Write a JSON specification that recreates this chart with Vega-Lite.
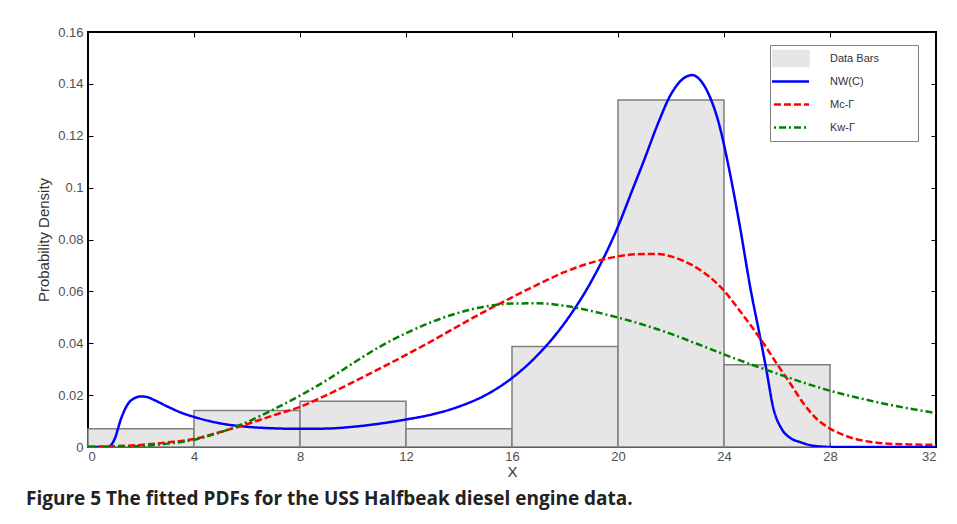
{
  "$schema": "https://vega.github.io/schema/vega-lite/v6.json",
  "width": 848,
  "height": 415,
  "autosize": {"type": "none"},
  "padding": {"left": 88, "top": 32, "right": 21, "bottom": 77},
  "background": "#ffffff",
  "title": {
    "text": "Figure 5 The fitted PDFs for the USS Halfbeak diesel engine data.",
    "orient": "bottom",
    "anchor": "start",
    "frame": "group",
    "font": "Open Sans",
    "fontWeight": "bold",
    "fontSize": 19,
    "color": "#222222",
    "dx": -62,
    "offset": 11
  },
  "config": {
    "view": {"stroke": "#000000", "strokeWidth": 2},
    "axis": {
      "grid": false,
      "domain": false,
      "tickColor": "#000000",
      "tickSize": -5,
      "tickWidth": 1,
      "labelFont": "Liberation Sans",
      "labelFontSize": 13,
      "labelColor": "#505050",
      "titleFont": "Liberation Sans",
      "titleFontSize": 15,
      "titleFontWeight": "normal",
      "titleColor": "#333333"
    }
  },
  "datasets": {
    "bars": [
      {"x0": 0, "x1": 4, "density": 0.00704},
      {"x0": 4, "x1": 8, "density": 0.01408},
      {"x0": 8, "x1": 12, "density": 0.01761},
      {"x0": 12, "x1": 16, "density": 0.00704},
      {"x0": 16, "x1": 20, "density": 0.03873},
      {"x0": 20, "x1": 24, "density": 0.1338},
      {"x0": 24, "x1": 28, "density": 0.03169}
    ],
    "curves": [
      {"series": "NW(C)", "x": 0, "y": 0},
      {"series": "NW(C)", "x": 0.5, "y": 0},
      {"series": "NW(C)", "x": 0.8, "y": 0.0002},
      {"series": "NW(C)", "x": 1.0, "y": 0.003},
      {"series": "NW(C)", "x": 1.25, "y": 0.011},
      {"series": "NW(C)", "x": 1.5, "y": 0.0165},
      {"series": "NW(C)", "x": 1.75, "y": 0.0188},
      {"series": "NW(C)", "x": 2.0, "y": 0.0195},
      {"series": "NW(C)", "x": 2.25, "y": 0.0192},
      {"series": "NW(C)", "x": 2.5, "y": 0.0181},
      {"series": "NW(C)", "x": 3.0, "y": 0.0156},
      {"series": "NW(C)", "x": 3.5, "y": 0.0133},
      {"series": "NW(C)", "x": 4.0, "y": 0.0116},
      {"series": "NW(C)", "x": 5.0, "y": 0.0091},
      {"series": "NW(C)", "x": 6.0, "y": 0.0078},
      {"series": "NW(C)", "x": 7.0, "y": 0.0072},
      {"series": "NW(C)", "x": 8.0, "y": 0.007},
      {"series": "NW(C)", "x": 9.0, "y": 0.0071},
      {"series": "NW(C)", "x": 10.0, "y": 0.0078},
      {"series": "NW(C)", "x": 11.0, "y": 0.009},
      {"series": "NW(C)", "x": 12.0, "y": 0.0106},
      {"series": "NW(C)", "x": 13.0, "y": 0.0126},
      {"series": "NW(C)", "x": 14.0, "y": 0.0156},
      {"series": "NW(C)", "x": 15.0, "y": 0.02},
      {"series": "NW(C)", "x": 16.0, "y": 0.0266},
      {"series": "NW(C)", "x": 17.0, "y": 0.0358},
      {"series": "NW(C)", "x": 18.0, "y": 0.048},
      {"series": "NW(C)", "x": 19.0, "y": 0.064},
      {"series": "NW(C)", "x": 20.0, "y": 0.085},
      {"series": "NW(C)", "x": 20.5, "y": 0.098},
      {"series": "NW(C)", "x": 21.0, "y": 0.111},
      {"series": "NW(C)", "x": 21.5, "y": 0.1245},
      {"series": "NW(C)", "x": 22.0, "y": 0.136},
      {"series": "NW(C)", "x": 22.4, "y": 0.1415},
      {"series": "NW(C)", "x": 22.8, "y": 0.1434},
      {"series": "NW(C)", "x": 23.1, "y": 0.1415},
      {"series": "NW(C)", "x": 23.4, "y": 0.1365},
      {"series": "NW(C)", "x": 23.8, "y": 0.125},
      {"series": "NW(C)", "x": 24.2, "y": 0.1068},
      {"series": "NW(C)", "x": 24.6, "y": 0.085},
      {"series": "NW(C)", "x": 25.0, "y": 0.061},
      {"series": "NW(C)", "x": 25.36, "y": 0.0425},
      {"series": "NW(C)", "x": 25.6, "y": 0.0297},
      {"series": "NW(C)", "x": 25.85, "y": 0.0155},
      {"series": "NW(C)", "x": 26.2, "y": 0.0066},
      {"series": "NW(C)", "x": 26.5, "y": 0.0035},
      {"series": "NW(C)", "x": 26.9, "y": 0.0018},
      {"series": "NW(C)", "x": 27.3, "y": 0.0006},
      {"series": "NW(C)", "x": 27.8, "y": 0.0001},
      {"series": "NW(C)", "x": 28.0, "y": 0},
      {"series": "NW(C)", "x": 32.0, "y": 0},
      {"series": "Mc-Γ", "x": 0, "y": 0},
      {"series": "Mc-Γ", "x": 1, "y": 0.0003},
      {"series": "Mc-Γ", "x": 2, "y": 0.0008},
      {"series": "Mc-Γ", "x": 3, "y": 0.0018},
      {"series": "Mc-Γ", "x": 4, "y": 0.0031},
      {"series": "Mc-Γ", "x": 5, "y": 0.0058},
      {"series": "Mc-Γ", "x": 6, "y": 0.0088},
      {"series": "Mc-Γ", "x": 7, "y": 0.0122},
      {"series": "Mc-Γ", "x": 8, "y": 0.0155},
      {"series": "Mc-Γ", "x": 9, "y": 0.02},
      {"series": "Mc-Γ", "x": 10, "y": 0.025},
      {"series": "Mc-Γ", "x": 11, "y": 0.0302},
      {"series": "Mc-Γ", "x": 12, "y": 0.0355},
      {"series": "Mc-Γ", "x": 13, "y": 0.041},
      {"series": "Mc-Γ", "x": 14, "y": 0.0468},
      {"series": "Mc-Γ", "x": 15, "y": 0.0524},
      {"series": "Mc-Γ", "x": 16, "y": 0.0577},
      {"series": "Mc-Γ", "x": 17, "y": 0.0628},
      {"series": "Mc-Γ", "x": 18, "y": 0.0675},
      {"series": "Mc-Γ", "x": 19, "y": 0.0711},
      {"series": "Mc-Γ", "x": 20, "y": 0.0735},
      {"series": "Mc-Γ", "x": 21, "y": 0.0744},
      {"series": "Mc-Γ", "x": 21.5, "y": 0.0744},
      {"series": "Mc-Γ", "x": 22, "y": 0.0735},
      {"series": "Mc-Γ", "x": 22.5, "y": 0.0716},
      {"series": "Mc-Γ", "x": 23, "y": 0.0689},
      {"series": "Mc-Γ", "x": 23.5, "y": 0.0652},
      {"series": "Mc-Γ", "x": 24, "y": 0.0603},
      {"series": "Mc-Γ", "x": 24.5, "y": 0.0538},
      {"series": "Mc-Γ", "x": 25, "y": 0.047},
      {"series": "Mc-Γ", "x": 25.5, "y": 0.0398},
      {"series": "Mc-Γ", "x": 26, "y": 0.032},
      {"series": "Mc-Γ", "x": 26.5, "y": 0.0245},
      {"series": "Mc-Γ", "x": 27, "y": 0.0168},
      {"series": "Mc-Γ", "x": 27.5, "y": 0.0108},
      {"series": "Mc-Γ", "x": 28, "y": 0.0071},
      {"series": "Mc-Γ", "x": 28.5, "y": 0.0047},
      {"series": "Mc-Γ", "x": 29, "y": 0.003},
      {"series": "Mc-Γ", "x": 29.5, "y": 0.002},
      {"series": "Mc-Γ", "x": 30, "y": 0.0014},
      {"series": "Mc-Γ", "x": 31, "y": 0.001},
      {"series": "Mc-Γ", "x": 32, "y": 0.0008},
      {"series": "Kw-Γ", "x": 0, "y": 0},
      {"series": "Kw-Γ", "x": 1, "y": 0.0001},
      {"series": "Kw-Γ", "x": 2, "y": 0.0004},
      {"series": "Kw-Γ", "x": 3, "y": 0.0013},
      {"series": "Kw-Γ", "x": 4, "y": 0.0028},
      {"series": "Kw-Γ", "x": 5, "y": 0.0057},
      {"series": "Kw-Γ", "x": 6, "y": 0.0096},
      {"series": "Kw-Γ", "x": 7, "y": 0.0145},
      {"series": "Kw-Γ", "x": 8, "y": 0.0198},
      {"series": "Kw-Γ", "x": 9, "y": 0.0257},
      {"series": "Kw-Γ", "x": 10, "y": 0.0323},
      {"series": "Kw-Γ", "x": 11, "y": 0.0386},
      {"series": "Kw-Γ", "x": 12, "y": 0.0439},
      {"series": "Kw-Γ", "x": 13, "y": 0.0483},
      {"series": "Kw-Γ", "x": 14, "y": 0.0518},
      {"series": "Kw-Γ", "x": 15, "y": 0.0542},
      {"series": "Kw-Γ", "x": 16, "y": 0.0553},
      {"series": "Kw-Γ", "x": 17, "y": 0.0554},
      {"series": "Kw-Γ", "x": 18, "y": 0.0544},
      {"series": "Kw-Γ", "x": 19, "y": 0.0524},
      {"series": "Kw-Γ", "x": 20, "y": 0.0499},
      {"series": "Kw-Γ", "x": 21, "y": 0.047},
      {"series": "Kw-Γ", "x": 22, "y": 0.0436},
      {"series": "Kw-Γ", "x": 23, "y": 0.0397},
      {"series": "Kw-Γ", "x": 24, "y": 0.0357},
      {"series": "Kw-Γ", "x": 25, "y": 0.0319},
      {"series": "Kw-Γ", "x": 26, "y": 0.0283},
      {"series": "Kw-Γ", "x": 27, "y": 0.0248},
      {"series": "Kw-Γ", "x": 28, "y": 0.0217},
      {"series": "Kw-Γ", "x": 29, "y": 0.0191},
      {"series": "Kw-Γ", "x": 30, "y": 0.0168},
      {"series": "Kw-Γ", "x": 31, "y": 0.0148},
      {"series": "Kw-Γ", "x": 32, "y": 0.0131}
    ]
  },
  "layer": [
    {
      "data": {"name": "bars"},
      "mark": {"type": "rect", "stroke": "#7f7f7f", "strokeWidth": 1.5},
      "encoding": {
        "x": {
          "field": "x0", "type": "quantitative",
          "scale": {"domain": [0, 32], "nice": false, "zero": false},
          "axis": {"orient": "bottom", "values": [0, 4, 8, 12, 16, 20, 24, 28, 32], "title": "X", "labelPadding": 8, "titlePadding": 1}
        },
        "x2": {"field": "x1"},
        "y": {
          "field": "density", "type": "quantitative",
          "scale": {"domain": [0, 0.16], "nice": false},
          "axis": {"orient": "left", "values": [0, 0.02, 0.04, 0.06, 0.08, 0.1, 0.12, 0.14, 0.16], "format": "~g", "title": "Probability Density", "labelPadding": 10, "titlePadding": 6}
        },
        "y2": {"datum": 0},
        "color": {"datum": "Data Bars", "type": "nominal"}
      }
    },
    {
      "data": {"name": "curves"},
      "mark": {"type": "line", "strokeWidth": 2.5, "interpolate": "monotone", "clip": true},
      "encoding": {
        "x": {"field": "x", "type": "quantitative",
          "axis": {"orient": "top", "values": [0, 4, 8, 12, 16, 20, 24, 28, 32], "labels": false, "title": null}},
        "y": {"field": "y", "type": "quantitative",
          "axis": {"orient": "right", "values": [0, 0.02, 0.04, 0.06, 0.08, 0.1, 0.12, 0.14, 0.16], "labels": false, "title": null}},
        "color": {
          "field": "series", "type": "nominal",
          "scale": {
            "domain": ["Data Bars", "NW(C)", "Mc-Γ", "Kw-Γ"],
            "range": ["#e6e6e6", "#0000ff", "#ff0000", "#008000"]
          },
          "legend": {
            "title": null,
            "orient": "none",
            "legendX": 682,
            "legendY": 13,
            "padding": 2,
            "fillColor": "#ffffff",
            "strokeColor": "#808080",
            "symbolSize": 2025,
            "symbolStrokeWidth": 2.5,
            "symbolOffset": 9,
            "clipHeight": 23,
            "rowPadding": 0,
            "labelOffset": 38,
            "labelFont": "Liberation Sans",
            "labelFontSize": 11,
            "labelColor": "#333333",
            "encode": {
              "entries": {
                "update": {
                  "width": {"value": 144}
                }
              },
              "symbols": {
                "update": {
                  "shape": {"signal": "datum.value === 'Data Bars' ? 'M-1,-0.36H1V0.36H-1Z' : 'stroke'"},
                  "strokeDash": {"signal": "datum.value === 'Mc-Γ' ? [7, 3] : datum.value === 'Kw-Γ' ? [7, 3, 2, 3] : [1, 0]"},
                  "stroke": {"signal": "datum.value === 'Data Bars' ? '#6a6a6a' : scale('color', datum.value)"},
                  "fill": {"signal": "datum.value === 'Data Bars' ? '#e6e6e6' : 'transparent'"},
                  "strokeWidth": {"signal": "datum.value === 'Data Bars' ? 1.5 : 2.5"},
                  "opacity": {"value": 1}
                }
              }
            }
          }
        },
        "strokeDash": {
          "field": "series", "type": "nominal",
          "scale": {"domain": ["NW(C)", "Mc-Γ", "Kw-Γ"], "range": [[1, 0], [7, 3], [7, 3, 2, 3]]},
          "legend": null
        }
      }
    }
  ],
  "resolve": {"axis": {"x": "independent", "y": "independent"}}
}
